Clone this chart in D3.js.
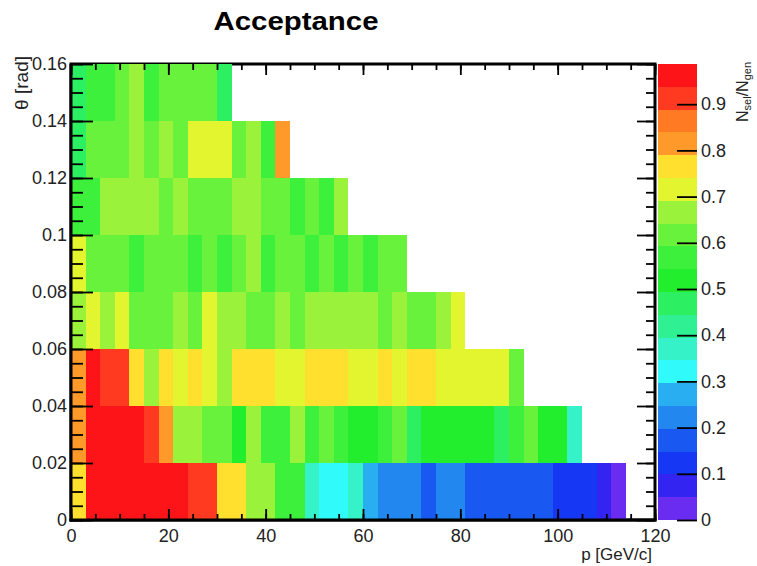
<!DOCTYPE html>
<html>
<head>
<meta charset="utf-8">
<script src="https://cdn.jsdelivr.net/npm/d3@7"></script>
<style>
  body { margin: 0; background: #fff; }
  svg { font-family: "Liberation Sans", Arial, Helvetica, sans-serif; }
</style>
</head>
<body>
<svg id="chart" width="757" height="566"></svg>
<script>
////////////////////////////////////////////////////////////////////////
/////  data : acceptance N_sel/N_gen in bins of p and theta   //////////
////////////////////////////////////////////////////////////////////////

var pBinWidth = 3        // GeV/c
var thetaBinWidth = 0.02 // rad

// one list per theta row, row 0 = 0..0.02 rad, first entry = p bin 0..3 GeV/c
var acc0 = [0.76, 0.96, 0.96, 0.96, 0.96, 0.96, 0.96, 0.96, 0.91, 0.91, 0.76, 0.76, 0.67, 0.67, 0.57, 0.57,
            0.37, 0.32, 0.32, 0.37, 0.27, 0.22, 0.22, 0.22, 0.17, 0.22, 0.22, 0.17, 0.17, 0.17, 0.17, 0.17,
            0.17, 0.12, 0.12, 0.12, 0.07, 0.03]
var acc1 = [0.81, 0.96, 0.96, 0.96, 0.96, 0.91, 0.81, 0.67, 0.67, 0.62, 0.62, 0.52, 0.67, 0.57, 0.57, 0.67,
            0.57, 0.62, 0.57, 0.52, 0.52, 0.57, 0.62, 0.47, 0.52, 0.52, 0.52, 0.52, 0.52, 0.47, 0.57, 0.62,
            0.52, 0.52, 0.37]
var acc2 = [0.81, 0.96, 0.91, 0.91, 0.76, 0.67, 0.76, 0.72, 0.76, 0.72, 0.67, 0.76, 0.76, 0.76, 0.72, 0.72,
            0.76, 0.76, 0.76, 0.72, 0.72, 0.76, 0.72, 0.76, 0.76, 0.72, 0.72, 0.72, 0.72, 0.72, 0.62]
var acc3 = [0.67, 0.72, 0.67, 0.72, 0.62, 0.62, 0.62, 0.67, 0.62, 0.72, 0.67, 0.67, 0.62, 0.62, 0.67, 0.62,
            0.67, 0.67, 0.67, 0.67, 0.67, 0.62, 0.67, 0.62, 0.62, 0.67, 0.72]
var acc4 = [0.72, 0.62, 0.62, 0.62, 0.57, 0.62, 0.62, 0.62, 0.57, 0.62, 0.57, 0.62, 0.67, 0.57, 0.62, 0.62,
            0.57, 0.62, 0.57, 0.62, 0.57, 0.62, 0.62]
var acc5 = [0.57, 0.57, 0.67, 0.67, 0.67, 0.67, 0.62, 0.67, 0.62, 0.62, 0.62, 0.67, 0.67, 0.62, 0.62, 0.57,
            0.62, 0.57, 0.67]
var acc6 = [0.47, 0.62, 0.62, 0.62, 0.67, 0.62, 0.67, 0.62, 0.72, 0.72, 0.72, 0.62, 0.67, 0.57, 0.81]
var acc7 = [0.47, 0.57, 0.57, 0.62, 0.67, 0.57, 0.62, 0.62, 0.62, 0.62, 0.47]
var accRows = [acc0, acc1, acc2, acc3, acc4, acc5, acc6, acc7]

var zMax = 0.987
// 20 contour colours, lowest first
var bandColors = ['#6a2cf0', '#3424f2', '#1638f4', '#1a58f2', '#2288f0', '#2aaef2', '#30fafa', '#36f2c8',
                  '#30f094', '#2cf062', '#22ee2e', '#3cf03c', '#68f23c', '#9af23a', '#e2f52e', '#ffe02e',
                  '#ff9a2a', '#ff7a22', '#ff3a20', '#fd1419']

var pTicks = [0, 20, 40, 60, 80, 100, 120]
var thetaTicks = [0, 0.02, 0.04, 0.06, 0.08, 0.1, 0.12, 0.14, 0.16]
var zTicks = [0, 0.1, 0.2, 0.3, 0.4, 0.5, 0.6, 0.7, 0.8, 0.9]

////////////////////////////////////////////////////////////////////////
/////  drawing   ///////////////////////////////////////////////////////
////////////////////////////////////////////////////////////////////////

var L = 71, R = 655, T = 64, B = 520   // frame
var palX0 = 658, palX1 = 697          // colour palette

var svg = d3.select('#chart')

var xs = d3.scaleLinear().domain([0, 120]).range([L, R])
var ys = d3.scaleLinear().domain([0, 0.16]).range([B, T])
var zs = d3.scaleLinear().domain([0, zMax]).range([B, T])
var zcol = d3.scaleQuantize().domain([0, zMax]).range(bandColors)

// frame
svg.append('rect')
  .attr('x', L).attr('y', T)
  .attr('width', R - L).attr('height', B - T)
  .attr('fill', 'none')
  .attr('stroke', 'black')
  .attr('stroke-width', 3)

// cells
var cells = []
accRows.forEach(function(row, it) {
  row.forEach(function(v, ip) { cells.push({ip: ip, it: it, v: v}) })
})

svg.append('g').selectAll('rect')
  .data(cells)
  .join('rect')
  .attr('x', function(d) { return xs(d.ip * pBinWidth) })
  .attr('width', function(d) { return xs((d.ip + 1) * pBinWidth) - xs(d.ip * pBinWidth) })
  .attr('y', function(d) { return ys((d.it + 1) * thetaBinWidth) })
  .attr('height', function(d) { return ys(d.it * thetaBinWidth) - ys((d.it + 1) * thetaBinWidth) })
  .attr('fill', function(d) { return zcol(d.v) })
  .attr('shape-rendering', 'crispEdges')

// axis lines left/bottom drawn over the cells
svg.append('line').attr('x1', L).attr('x2', L).attr('y1', T).attr('y2', B + 1.5)
  .attr('stroke', 'black').attr('stroke-width', 3)
svg.append('line').attr('x1', L - 1.5).attr('x2', R + 1.5).attr('y1', B).attr('y2', B)
  .attr('stroke', 'black').attr('stroke-width', 3)

// helper for tick-only axes
function tickAxis(axis, tx, ty) {
  var g = svg.append('g').attr('transform', 'translate(' + tx + ',' + ty + ')').call(axis)
  g.select('.domain').remove()
  g.selectAll('.tick line').attr('stroke', 'black').attr('stroke-width', 1.8)
  g.selectAll('text')
    .attr('font-family', '"Liberation Sans", Arial, Helvetica, sans-serif')
    .attr('font-size', 18)
    .attr('fill', '#222')
  return g
}

var fmt = d3.format('~g')

// x axis (bottom labelled, top ticks only)
tickAxis(d3.axisBottom(xs).tickValues(xs.ticks(24)).tickSize(-6).tickFormat(''), 0, B)
tickAxis(d3.axisBottom(xs).tickValues(pTicks).tickSize(-11).tickPadding(9).tickFormat(fmt), 0, B)
tickAxis(d3.axisTop(xs).tickValues(xs.ticks(24)).tickSize(-6).tickFormat(''), 0, T)
tickAxis(d3.axisTop(xs).tickValues(pTicks).tickSize(-11).tickFormat(''), 0, T)

// y axis (left labelled, right ticks only)
tickAxis(d3.axisLeft(ys).tickValues(ys.ticks(32)).tickSize(-12).tickFormat(''), L, 0)
tickAxis(d3.axisLeft(ys).tickValues(thetaTicks).tickSize(-22).tickPadding(4).tickFormat(fmt), L, 0)
tickAxis(d3.axisRight(ys).tickValues(ys.ticks(32)).tickSize(-9).tickFormat(''), R, 0)
tickAxis(d3.axisRight(ys).tickValues(thetaTicks).tickSize(-18).tickFormat(''), R, 0)

// palette boxes
svg.append('g').selectAll('rect')
  .data(bandColors)
  .join('rect')
  .attr('x', palX0)
  .attr('width', palX1 - palX0)
  .attr('y', function(c) { return zs(zcol.invertExtent(c)[1]) })
  .attr('height', function(c) { var e = zcol.invertExtent(c); return zs(e[0]) - zs(e[1]) })
  .attr('fill', function(c) { return c })
  .attr('shape-rendering', 'crispEdges')

// palette axis
tickAxis(d3.axisRight(zs).tickValues(zTicks).tickSize(-20).tickPadding(4).tickFormat(fmt), palX1, 0)

// title
svg.append('text')
  .attr('x', 296).attr('y', 30)
  .attr('text-anchor', 'middle')
  .attr('font-size', 25)
  .attr('font-weight', 'bold')
  .attr('textLength', 165)
  .attr('lengthAdjust', 'spacingAndGlyphs')
  .text('Acceptance')

// x title
svg.append('text')
  .attr('x', 652).attr('y', 560)
  .attr('text-anchor', 'end')
  .attr('font-size', 17)
  .attr('fill', '#222')
  .text('p [GeV/c]')

// y title
svg.append('text')
  .attr('transform', 'translate(28,56) rotate(-90)')
  .attr('text-anchor', 'end')
  .attr('font-size', 19)
  .attr('fill', '#222')
  .text('\u03B8 [rad]')

// palette title  N_sel / N_gen
var zt = svg.append('text')
  .attr('transform', 'translate(748,62) rotate(-90)')
  .attr('text-anchor', 'end')
  .attr('font-size', 16)
  .attr('fill', '#222')
zt.append('tspan').text('N')
zt.append('tspan').attr('font-size', 11).attr('dy', 3).text('sel')
zt.append('tspan').attr('dy', -3).text('/N')
zt.append('tspan').attr('font-size', 11).attr('dy', 3).text('gen')
</script>
</body>
</html>
